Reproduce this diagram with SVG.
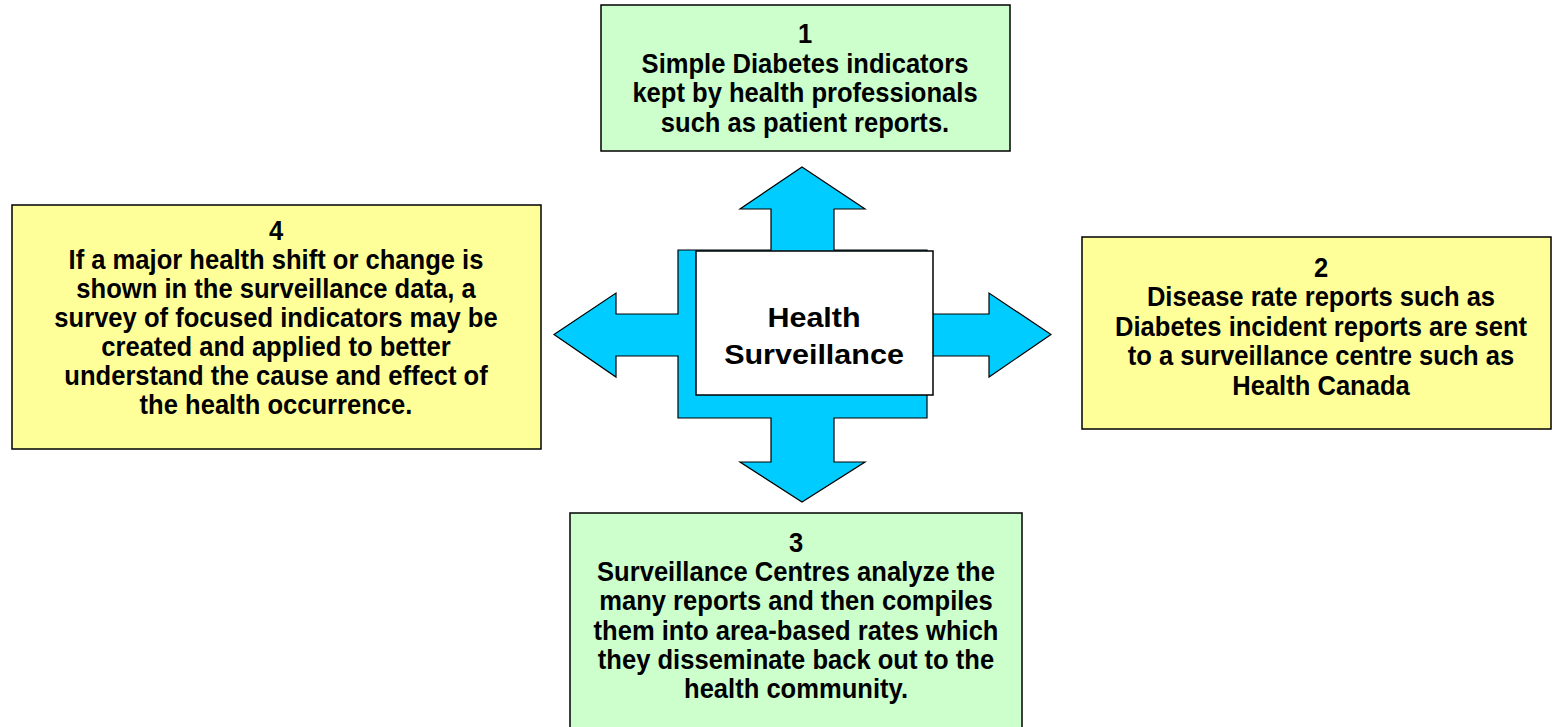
<svg xmlns="http://www.w3.org/2000/svg" width="1552" height="727" viewBox="0 0 1552 727">
<style>
.box{stroke:#000;stroke-width:1.5}
.g{fill:#CCFFCC}
.y{fill:#FFFF99}
.t{font-family:"Liberation Sans",Arial,sans-serif;font-weight:bold;font-size:27.5px;fill:#000;text-anchor:middle}
.c{font-size:28px}
</style>
<rect width="1552" height="727" fill="#fff"/>
<g id="connectors">
<polygon fill="#00CCFF" stroke="#000" stroke-width="1.2" points="802,167 865,209 834,209 834,250 927,250 927,314 989,314 989,293 1051,334.5 989,377 989,356 927,356 927,418 834,418 834,462 865,462 802,502 740,462 771,462 771,418 678,418 678,356 616,356 616,377 554,334.5 616,293 616,314 678,314 678,250 771,250 771,209 740,209"/>
</g>
<g id="center">
<rect x="696" y="251" width="237" height="144" fill="#fff" stroke="#000" stroke-width="1.5"/>
<g transform="translate(814 0) scale(1.09 1)">
<text class="t c" x="0" y="327">Health</text>
<text class="t c" x="0" y="364">Surveillance</text>
</g>
</g>
<g id="node1">
<rect class="box g" x="601" y="5" width="409" height="146"/>
<g transform="translate(805 0) scale(0.93 1)">
<text class="t" x="0" y="43.5">1</text>
<text class="t" x="0" y="73">Simple Diabetes indicators</text>
<text class="t" x="0" y="102.3">kept by health professionals</text>
<text class="t" x="0" y="131.6">such as patient reports.</text>
</g>
</g>
<g id="node2">
<rect class="box y" x="1082" y="237" width="469" height="192"/>
<g transform="translate(1321 0) scale(0.93 1)">
<text class="t" x="0" y="277">2</text>
<text class="t" x="0" y="306.5">Disease rate reports such as</text>
<text class="t" x="0" y="336">Diabetes incident reports are sent</text>
<text class="t" x="0" y="365.5">to a surveillance centre such as</text>
<text class="t" x="0" y="395">Health Canada</text>
</g>
</g>
<g id="node3">
<rect class="box g" x="570" y="513" width="452" height="216"/>
<g transform="translate(796 0) scale(0.93 1)">
<text class="t" x="0" y="552">3</text>
<text class="t" x="0" y="581.2">Surveillance Centres analyze the</text>
<text class="t" x="0" y="610.4">many reports and then compiles</text>
<text class="t" x="0" y="639.6">them into area-based rates which</text>
<text class="t" x="0" y="668.8">they disseminate back out to the</text>
<text class="t" x="0" y="698">health community.</text>
</g>
</g>
<g id="node4">
<rect class="box y" x="12" y="205" width="529" height="244"/>
<g transform="translate(276 0) scale(0.93 1)">
<text class="t" x="0" y="240">4</text>
<text class="t" x="0" y="269">If a major health shift or change is</text>
<text class="t" x="0" y="298">shown in the surveillance data, a</text>
<text class="t" x="0" y="327">survey of focused indicators may be</text>
<text class="t" x="0" y="356">created and applied to better</text>
<text class="t" x="0" y="385">understand the cause and effect of</text>
<text class="t" x="0" y="414">the health occurrence.</text>
</g>
</g>
</svg>
